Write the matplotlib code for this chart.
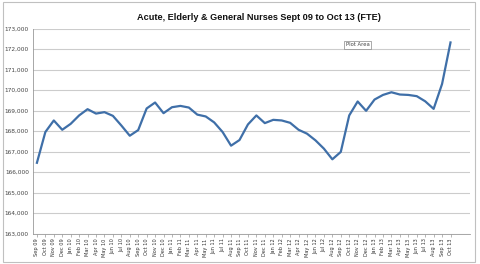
import numpy as np
import matplotlib.pyplot as plt
from matplotlib.patches import Rectangle
from matplotlib.ticker import FuncFormatter

months = ['Sep', 'Oct', 'Nov', 'Dec', 'Jan', 'Feb', 'Mar', 'Apr', 'May', 'Jun', 'Jul', 'Aug']

# month labels Sep 09 .. Oct 13
labels = []
for yr in range(9, 14):
    for k, m in enumerate(months):
        y = yr if k < 4 else yr + 1
        labels.append('%s %02d' % (m, y))
labels = labels[:50]

nurses_fte = [166450, 167950, 168515, 168060, 168350, 168760, 169065, 168850, 168920, 168740,
              168270, 167770, 168045, 169100, 169390, 168870, 169160, 169225, 169145, 168800,
              168710, 168420, 167950, 167285, 167560, 168320, 168760, 168385, 168545, 168515,
              168400, 168060, 167870, 167545, 167140, 166620, 166980, 168760, 169440, 168985,
              169535, 169760, 169890, 169780, 169760, 169700, 169450, 169080, 170295, 172320]

fig = plt.figure(figsize=(4.8, 2.64), dpi=100)
ax = fig.add_axes([0.069, 0.1155, 0.91, 0.7765])

x = np.arange(len(nurses_fte))
ax.plot(x, nurses_fte, color='#3F6FA8', lw=1.6, zorder=3)

ax.set_ylim(163000, 173000)
ax.set_yticks(range(163000, 173001, 1000))
ax.yaxis.set_major_formatter(FuncFormatter(lambda v, p: '{:,.0f}'.format(v)))
ax.grid(axis='y', color='#cccccc', lw=0.8)
ax.set_axisbelow(True)

ax.set_xlim(-0.45, 51.3)
ax.set_xticks(x)
ax.set_xticklabels(labels, rotation=90, fontsize=3.6, color='#333333')
ax.tick_params(axis='x', length=2, width=0.5, color='#999999', pad=1.5)
ax.tick_params(axis='y', length=0, labelsize=4.2, labelcolor='#444444', pad=3)

for s in ['top', 'right']:
    ax.spines[s].set_visible(False)
ax.spines['left'].set_color('#999999')
ax.spines['bottom'].set_color('#999999')
ax.spines['left'].set_linewidth(0.6)
ax.spines['bottom'].set_linewidth(0.6)

fig.text(0.54, 0.935, 'Acute, Elderly & General Nurses Sept 09 to Oct 13 (FTE)',
         ha='center', va='center', fontsize=6.6, fontweight='bold', color='#111111',
         family='Liberation Sans')

fig.text(0.745, 0.83, 'Plot Area', ha='center', va='center', fontsize=3.8, color='#444444',
         bbox=dict(boxstyle='square,pad=0.3', fc='white', ec='#888888', lw=0.5))

fig.patches.append(Rectangle((0.006, 0.008), 0.984, 0.984, transform=fig.transFigure,
                             fill=False, ec='#c0c0c0', lw=0.8))

plt.savefig('out.png', dpi=100)
